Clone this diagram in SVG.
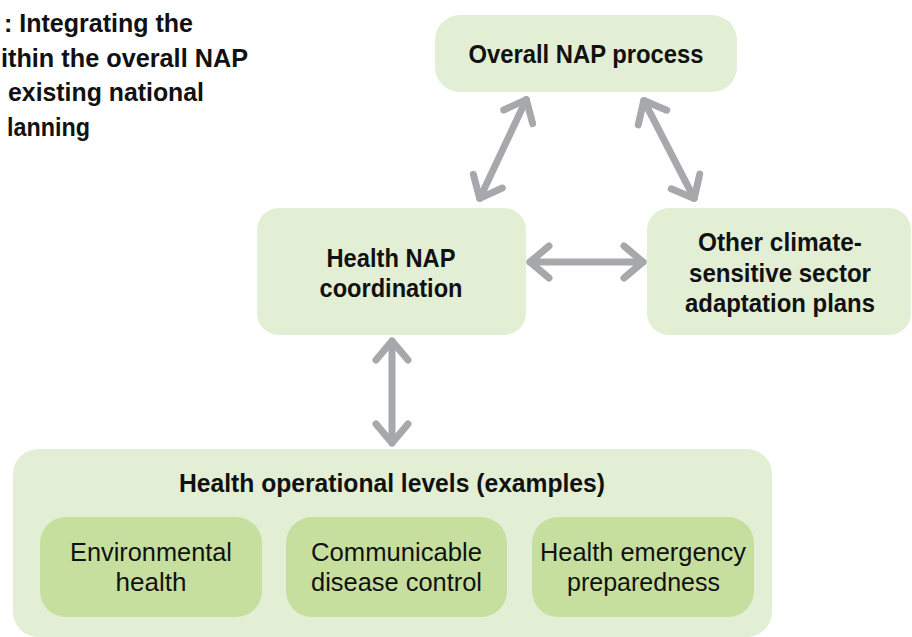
<svg xmlns="http://www.w3.org/2000/svg" width="912" height="637" viewBox="0 0 912 637">
<defs>
<style>
.box{fill:#e3efd5}
.sub{fill:#c6df9f}
.b{font-family:"Liberation Sans","Arial",sans-serif;font-weight:bold;font-size:25px;fill:#111;text-anchor:middle}
.r{font-family:"Liberation Sans","Arial",sans-serif;font-size:26px;fill:#111;text-anchor:middle}
.t{font-family:"Liberation Sans","Arial",sans-serif;font-weight:bold;font-size:26px;fill:#111}
.c{fill:none;stroke:#a7a8ab;stroke-width:7;stroke-linecap:round;stroke-linejoin:round}
</style>
<marker id="ah" markerUnits="userSpaceOnUse" viewBox="-30 -30 60 60" markerWidth="60" markerHeight="60" refX="0" refY="0" orient="auto-start-reverse" overflow="visible">
<path d="M -19 -16 L 0 0 L -19 16" fill="none" stroke="#a7a8ab" stroke-width="7" stroke-linecap="round" stroke-linejoin="round"/>
</marker>
</defs>
<rect width="912" height="637" fill="#ffffff"/>
<g id="title">
<text class="t" x="4" y="32" textLength="189" lengthAdjust="spacingAndGlyphs">: Integrating the</text>
<text class="t" x="1" y="66.5" textLength="247" lengthAdjust="spacingAndGlyphs">ithin the overall NAP</text>
<text class="t" x="8" y="101" textLength="196" lengthAdjust="spacingAndGlyphs">existing national</text>
<text class="t" x="7" y="135.5" textLength="83" lengthAdjust="spacingAndGlyphs">lanning</text>
</g>
<g id="connectors">
<line class="c" x1="526.3" y1="99.6" x2="479.7" y2="198.4" marker-start="url(#ah)" marker-end="url(#ah)"/>
<line class="c" x1="643.8" y1="100.6" x2="694.2" y2="198.4" marker-start="url(#ah)" marker-end="url(#ah)"/>
<line class="c" x1="530" y1="262" x2="643" y2="262" marker-start="url(#ah)" marker-end="url(#ah)"/>
<line class="c" x1="392" y1="341" x2="392" y2="443" marker-start="url(#ah)" marker-end="url(#ah)"/>
</g>
<g id="overall-nap">
<rect class="box" x="435" y="15" width="302" height="77" rx="25"/>
<text class="b" x="586" y="63" textLength="235" lengthAdjust="spacingAndGlyphs">Overall NAP process</text>
</g>
<g id="health-nap">
<rect class="box" x="257" y="208" width="269" height="127" rx="22"/>
<text class="b" x="391" y="267" textLength="129" lengthAdjust="spacingAndGlyphs">Health NAP</text>
<text class="b" x="391" y="297" textLength="143" lengthAdjust="spacingAndGlyphs">coordination</text>
</g>
<g id="other-sector">
<rect class="box" x="647" y="208" width="264" height="127" rx="22"/>
<text class="b" x="780" y="251" textLength="164" lengthAdjust="spacingAndGlyphs">Other climate-</text>
<text class="b" x="780" y="282" textLength="182" lengthAdjust="spacingAndGlyphs">sensitive sector</text>
<text class="b" x="780" y="312" textLength="190" lengthAdjust="spacingAndGlyphs">adaptation plans</text>
</g>
<g id="operational-levels">
<rect class="box" x="13" y="449" width="759" height="188" rx="25"/>
<text class="b" x="392" y="492" textLength="426" lengthAdjust="spacingAndGlyphs">Health operational levels (examples)</text>
</g>
<g id="environmental-health">
<rect class="sub" x="40" y="517" width="222" height="100" rx="26"/>
<text class="r" x="151" y="561" textLength="162" lengthAdjust="spacingAndGlyphs">Environmental</text>
<text class="r" x="151" y="591" textLength="71" lengthAdjust="spacingAndGlyphs">health</text>
</g>
<g id="communicable-disease">
<rect class="sub" x="286" y="517" width="221" height="100" rx="26"/>
<text class="r" x="396.5" y="561" textLength="171" lengthAdjust="spacingAndGlyphs">Communicable</text>
<text class="r" x="396.5" y="591" textLength="171" lengthAdjust="spacingAndGlyphs">disease control</text>
</g>
<g id="emergency-preparedness">
<rect class="sub" x="532" y="517" width="222" height="100" rx="26"/>
<text class="r" x="643" y="561" textLength="206" lengthAdjust="spacingAndGlyphs">Health emergency</text>
<text class="r" x="643.5" y="591" textLength="153" lengthAdjust="spacingAndGlyphs">preparedness</text>
</g>
</svg>
